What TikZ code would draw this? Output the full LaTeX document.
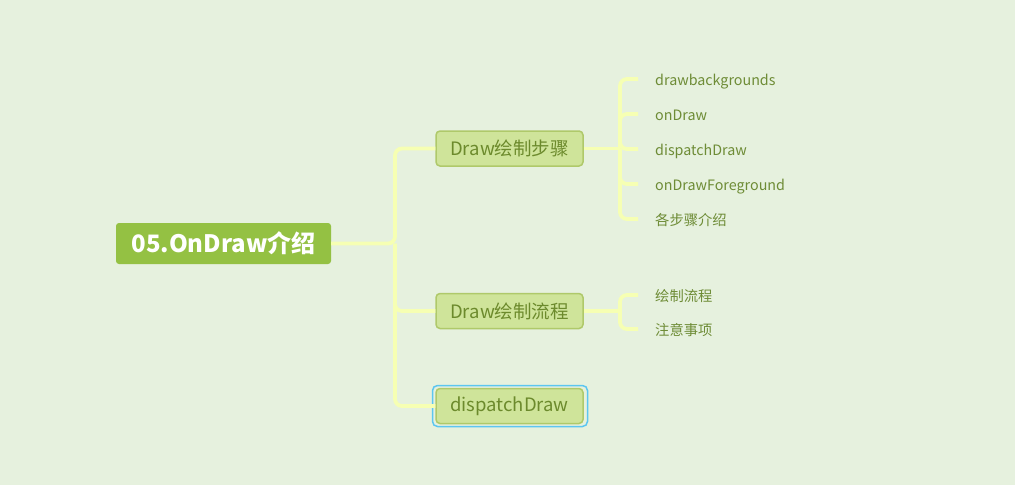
\documentclass[tikz,border=0pt]{standalone}
\usepackage{fontspec}
\setmainfont{Noto Sans CJK SC}
\usetikzlibrary{calc}
\definecolor{bg}{HTML}{E6F1DE}
\definecolor{rootfill}{HTML}{94C143}
\definecolor{brfill}{HTML}{CFE49A}
\definecolor{brdraw}{HTML}{AFC96A}
\definecolor{brtext}{HTML}{6C8A2C}
\definecolor{leaftext}{HTML}{6E8C36}
\definecolor{linec}{HTML}{F6FFB3}
\definecolor{selc}{HTML}{5CC6F0}
\tikzset{
  rootbox/.style={fill=rootfill, rounded corners=3pt, minimum width=215pt, minimum height=41pt, inner sep=0pt, text=white, font=\fontsize{24}{26}\selectfont\bfseries},
  brbox/.style={fill=brfill, draw=brdraw, line width=1.5pt, rounded corners=4pt, minimum width=147pt, minimum height=35pt, inner sep=0pt, text=brtext, font=\fontsize{18.5}{21}\selectfont},
  leaf/.style={anchor=west, inner sep=0pt, text height=15.5pt, text depth=3pt, text=leaftext, font=\fontsize{14.3}{16}\selectfont},
  conn/.style={draw=linec, line width=3.8pt, rounded corners=7pt},
}
\begin{document}
\begin{tikzpicture}[x=1pt,y=-1pt]
\fill[bg] (0,0) rectangle (1015,485);
\useasboundingbox (0,0) rectangle (1015,485);

\node[rootbox] (root) at (223.5,243.5) {05.OnDraw介绍};

\node[brbox] (b1) at (509.5,148.5) {Draw绘制步骤};
\node[brbox] (b2) at (509.5,311) {Draw绘制流程};
\draw[selc, line width=1.5pt, rounded corners=5pt] (432.5,385.5) rectangle (587.5,426.5);
\node[brbox] (b3) at (509.5,406) {dispatchDraw};

\coordinate (t) at (395,243.5);
\draw[conn] (root.east) -- (t) |- (b1.west);
\draw[conn] (t) |- (b2.west);
\draw[conn] (t) |- (b3.west);

\node[leaf] (l1) at (655,79) {drawbackgrounds};
\node[leaf] (l2) at (655,114) {onDraw};
\node[leaf] (l3) at (655,149) {dispatchDraw};
\node[leaf] (l4) at (655,184) {onDrawForeground};
\node[leaf] (l5) at (655,219) {各步骤介绍};
\node[leaf] (m1) at (655,295) {绘制流程};
\node[leaf] (m2) at (655,329) {注意事项};

\coordinate (s1) at (620,148.5);
\coordinate (s2) at (620,311);
\draw[conn] (b1.east) -- (s1);
\foreach \n in {l1,l2,l3,l4,l5}{
  \draw[conn, shorten >=17pt] (s1) |- (\n.west);
}
\draw[conn] (b2.east) -- (s2);
\foreach \n in {m1,m2}{
  \draw[conn, shorten >=17pt] (s2) |- (\n.west);
}
\end{tikzpicture}
\end{document}
